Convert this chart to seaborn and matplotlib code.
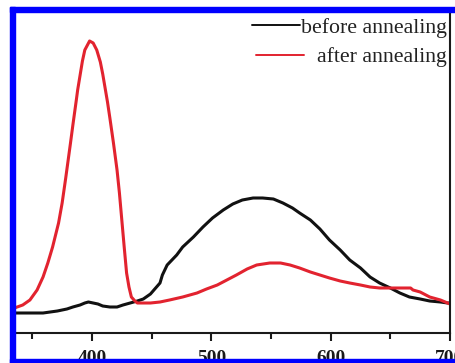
import matplotlib
matplotlib.use("Agg")
import matplotlib.pyplot as plt
import seaborn as sns
import pandas as pd
from matplotlib.lines import Line2D
from matplotlib.patches import Rectangle

# wavelength (nm) / PL intensity (a.u.)
red_nm = [335, 342, 348, 354, 359, 363, 367, 372, 375, 378, 382, 384, 387, 388,
          392, 394, 398, 401, 404, 407, 409, 413, 415, 418, 421, 423, 425, 427,
          429, 431, 433, 436, 438, 443, 449, 457, 465, 476, 488, 496, 505, 513,
          521, 530, 538, 549, 558, 566, 574, 583, 591, 599, 608, 616, 625, 633,
          641, 650, 658, 664, 667, 669, 675, 683, 692, 698, 700]
red_int = [25, 28, 33, 43, 56, 70, 86, 110, 130, 155, 190, 208, 234, 243,
           272, 283, 292, 290, 283, 271, 259, 231, 215, 190, 163, 140, 113, 86,
           60, 46, 36, 32, 30, 30, 30, 31, 33, 36, 40, 44, 48, 53,
           58, 64, 68, 70, 70, 68, 65, 61, 58, 55, 52, 50, 48, 46,
           45, 45, 45, 45, 45, 43, 41, 36, 33, 30, 29]

black_nm = [335, 348, 359, 371, 379, 384, 390, 394, 397, 401, 405, 409, 415, 421,
            426, 432, 438, 443, 449, 457, 459, 463, 467, 471, 476, 485, 493, 501,
            510, 518, 526, 535, 543, 552, 560, 568, 574, 583, 591, 599, 608, 616,
            625, 633, 641, 650, 658, 666, 675, 683, 692, 698, 700]
black_int = [20, 20, 20, 22, 24, 26, 28, 30, 31, 30, 29, 27, 26, 26,
             28, 30, 32, 34, 39, 50, 58, 68, 73, 78, 86, 96, 106, 115,
             123, 129, 133, 135, 135, 134, 130, 125, 120, 113, 104, 93, 83, 73,
             65, 56, 50, 45, 40, 36, 34, 32, 31, 30, 30]

major_ticks = [400, 500, 600, 700]
minor_ticks = [350, 450, 550, 650]
labels = ["before annealing", "after annealing"]

sns.set_style("ticks")
plt.rcParams['font.family'] = ['Liberation Serif', 'DejaVu Serif']

W, H = 455, 363
fig = plt.figure(figsize=(W / 100, H / 100), dpi=100)
ax = fig.add_axes([15 / W, 30 / H, 435 / W, 321 / H])

before = pd.DataFrame({"nm": black_nm, "I": black_int})
after = pd.DataFrame({"nm": red_nm, "I": red_int})
sns.lineplot(data=before, x="nm", y="I", color="#111111", lw=2.2, ax=ax, sort=False,
             solid_joinstyle="round")
sns.lineplot(data=after, x="nm", y="I", color="#e2232f", lw=2.2, ax=ax, sort=False,
             solid_joinstyle="round")

ax.set_xlim(335.5, 700)
ax.set_ylim(0, 321)
ax.set_xlabel("")
ax.set_ylabel("")
ax.set_yticks([])

for s in ["left", "top"]:
    ax.spines[s].set_visible(False)
for s in ["bottom", "right"]:
    ax.spines[s].set_linewidth(1.5)
    ax.spines[s].set_color("#1a1a1a")

ax.set_xticks(major_ticks)
ax.set_xticks(minor_ticks, minor=True)
ax.set_xticklabels([str(t) for t in major_ticks], fontweight="bold")
ax.tick_params(axis="x", which="major", direction="out", length=6, width=1.5,
               pad=6.5, labelsize=14, colors="#1a1a1a")
ax.tick_params(axis="x", which="minor", direction="out", length=4, width=1.5,
               colors="#1a1a1a")

# legend, text right-aligned like the original
h1 = Line2D([], [], color="#111111", lw=1.4)
h2 = Line2D([], [], color="#e2232f", lw=1.4)
leg1 = ax.legend([h1], [labels[0]], loc="center right",
                 bbox_to_anchor=(447 / W, 1 - 27.7 / H), bbox_transform=fig.transFigure,
                 frameon=False, fontsize=15.7, handlelength=2.2, handletextpad=0.05,
                 borderpad=0, borderaxespad=0, labelcolor="#222222")
ax.add_artist(leg1)
ax.legend([h2], [labels[1]], loc="center right",
          bbox_to_anchor=(447 / W, 1 - 57 / H), bbox_transform=fig.transFigure,
          frameon=False, fontsize=15.7, handlelength=2.2, handletextpad=0.6,
          borderpad=0, borderaxespad=0, labelcolor="#222222")

# blue frame around the cropped figure
blue = "#0000ff"
fig.add_artist(Rectangle((10 / W, 0), 5 / W, (H - 7) / H, transform=fig.transFigure,
                         color=blue, zorder=20))
fig.add_artist(Rectangle((10 / W, (H - 12) / H), (W - 10) / W, 5 / H,
                         transform=fig.transFigure, color=blue, zorder=20))
fig.add_artist(Rectangle((10 / W, 0), (W - 10) / W, 4 / H, transform=fig.transFigure,
                         color=blue, zorder=20))

fig.savefig("out.png", dpi=100)
